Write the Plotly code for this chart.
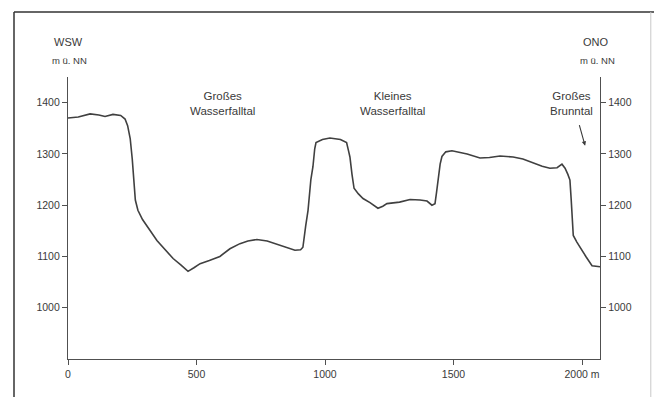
import plotly.graph_objects as go

# Profile along the WSW–ONO section: distance (m) and elevation (m ü. NN)
distance_m = [0, 40, 86, 120, 144, 175, 205, 222, 232, 242, 250, 256, 262, 272, 290,
              346, 409, 440, 467, 490, 514, 550, 591, 630, 669, 700, 735, 775, 813,
              850, 883, 905, 914, 925, 934, 945, 953, 960, 965, 990, 1019, 1060, 1084,
              1092, 1097, 1105, 1113, 1130, 1148, 1175, 1206, 1225, 1241, 1290, 1331,
              1370, 1397, 1416, 1428, 1434, 1440, 1448, 1455, 1470, 1494, 1553, 1603,
              1640, 1681, 1732, 1770, 1810, 1845, 1875, 1903, 1922, 1934, 1945, 1953,
              1958, 1962, 1966, 1980, 1992, 2015, 2039, 2070]
elevation_m = [1370, 1372, 1378, 1376, 1373, 1377, 1375, 1368, 1355, 1330, 1290, 1250,
               1210, 1190, 1172, 1131, 1096, 1083, 1071, 1078, 1086, 1092, 1100, 1115,
               1125, 1130, 1133, 1130, 1124, 1117, 1112, 1113, 1118, 1160, 1190, 1250,
               1275, 1310, 1322, 1328, 1331, 1328, 1322, 1305, 1294, 1260, 1233, 1222,
               1213, 1205, 1194, 1198, 1203, 1206, 1211, 1210, 1208, 1200, 1203, 1225,
               1249, 1280, 1295, 1304, 1306, 1300, 1292, 1293, 1296, 1294, 1290, 1282,
               1276, 1272, 1273, 1280, 1272, 1260, 1249, 1210, 1170, 1141, 1128, 1118,
               1100, 1082, 1080]

x_ticks = [0, 500, 1000, 1500, 2000]
x_tick_labels = ["0", "500", "1000", "1500", "2000 m"]
y_ticks = [1000, 1100, 1200, 1300, 1400]

# Valley names: (distance, elevation, text)
valley_labels = [
    (600, 1399, "Großes<br>Wasserfalltal"),
    (1261, 1399, "Kleines<br>Wasserfalltal"),
    (1958, 1399, "Großes<br>Brunntal"),
]

FONT = "Liberation Sans, Arial, sans-serif"
INK = "#3a3a3a"

fig = go.Figure()
fig.add_trace(go.Scatter(x=distance_m, y=elevation_m, mode="lines",
                         line=dict(color="#404040", width=1.6),
                         showlegend=False, hoverinfo="skip"))
# same profile on the right-hand elevation axis (transparent) so that axis is drawn
fig.add_trace(go.Scatter(x=distance_m, y=elevation_m, mode="lines", yaxis="y2",
                         line=dict(color="rgba(0,0,0,0)", width=0),
                         showlegend=False, hoverinfo="skip"))

axis_common = dict(showgrid=False, zeroline=False, showline=True, linecolor="#505050",
                   linewidth=1.2, ticks="outside", ticklen=5, tickwidth=1,
                   tickcolor="#505050",
                   tickfont=dict(family=FONT, size=10.5, color=INK))

fig.update_layout(
    width=654, height=397,
    margin=dict(l=68, r=54, t=77, b=38),
    paper_bgcolor="white", plot_bgcolor="white",
    xaxis=dict(range=[0, 2070], tickvals=x_ticks, ticktext=x_tick_labels, **axis_common),
    yaxis=dict(range=[900, 1450], tickvals=y_ticks, **axis_common),
    yaxis2=dict(range=[900, 1450], tickvals=y_ticks, overlaying="y", side="right",
                **axis_common),
)

for x, y, text in valley_labels:
    fig.add_annotation(x=x, y=y, text=text, showarrow=False,
                       font=dict(family=FONT, size=11.5, color=INK),
                       xanchor="center", yanchor="middle")

# arrow pointing at the Großes Brunntal
fig.add_annotation(x=2012, y=1316, ax=1988, ay=1359, axref="x", ayref="y", text="",
                   showarrow=True, arrowhead=2, arrowsize=0.8, arrowwidth=1.1,
                   arrowcolor=INK)

# direction headings and unit labels above both elevation axes
for px, label in [(0.0, "WSW"), (0.9925, "ONO")]:
    fig.add_annotation(x=px, y=1.124, xref="paper", yref="paper", text=label,
                       showarrow=False, font=dict(family=FONT, size=11, color=INK),
                       xanchor="center", yanchor="middle")
    fig.add_annotation(x=px + 0.002, y=1.057, xref="paper", yref="paper",
                       text="m ü. NN", showarrow=False,
                       font=dict(family=FONT, size=9.5, color=INK),
                       xanchor="center", yanchor="middle")

# outer frame around the figure
fig.add_shape(type="line", xref="paper", yref="paper", x0=-0.1015, x1=-0.1015,
              y0=1.2305, y1=-0.2, line=dict(color="#333333", width=1.5))
fig.add_shape(type="line", xref="paper", yref="paper", x0=-0.1015, x1=1.12,
              y0=1.2305, y1=1.2305, line=dict(color="#333333", width=1.5))
fig.add_shape(type="line", xref="paper", yref="paper", x0=1.0955, x1=1.0955,
              y0=1.2305, y1=-0.2, line=dict(color="#c8c8c8", width=1))

fig.write_html("out.html")
